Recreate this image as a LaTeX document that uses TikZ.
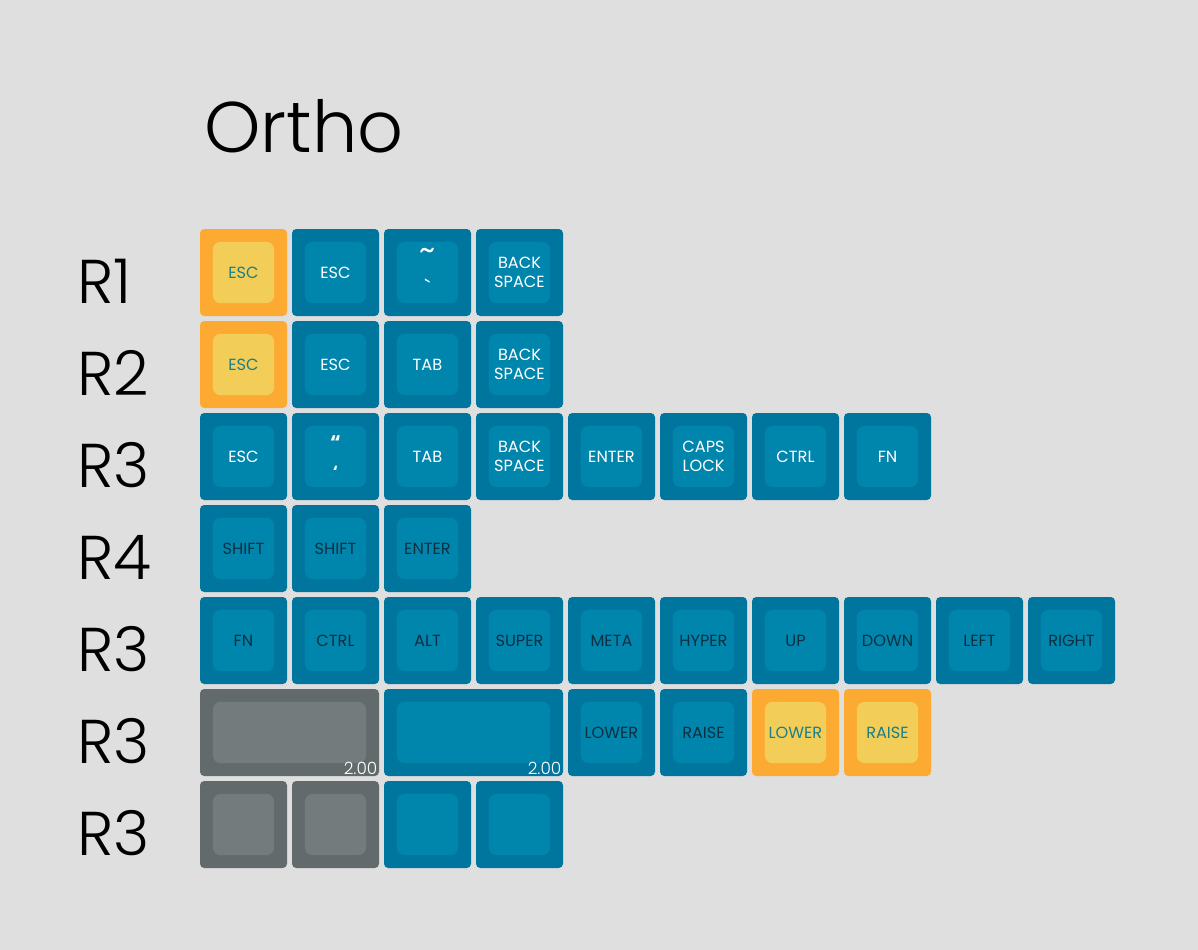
\documentclass[tikz,border=0pt]{standalone}
\usepackage{fontspec}
\setmainfont{Poppins}
\IfFontExistsTF{Poppins-Light}
  {\newfontfamily\lightfont{Poppins-Light}}
  {\IfFontExistsTF{Poppins Light}
    {\newfontfamily\lightfont{Poppins Light}}
    {\IfFontExistsTF{Poppins-ExtraLight}
      {\newfontfamily\lightfont{Poppins-ExtraLight}}
      {\newfontfamily\lightfont{Poppins}}}}
\usepackage{tikz}
\usetikzlibrary{positioning}
\definecolor{bgGrey}{HTML}{DFDFDF}
\definecolor{blueOut}{HTML}{00769F}
\definecolor{blueIn}{HTML}{0086AD}
\definecolor{orgOut}{HTML}{FCAA32}
\definecolor{orgIn}{HTML}{F2CE58}
\definecolor{greyOut}{HTML}{636A6C}
\definecolor{greyIn}{HTML}{737B7C}
\definecolor{txtDark}{HTML}{0C2F42}
\definecolor{txtTeal}{HTML}{1B7F88}

\begin{document}
\begin{tikzpicture}[
  node distance=0.125cm,
  keycap/.style 2 args={fill=#1, rounded corners=3pt, inner sep=0pt, outer sep=0pt,
              minimum width=2.175cm, minimum height=2.175cm, align=center,
              font=\fontsize{11.5}{13.5}\selectfont,
              path picture={\fill[#2, rounded corners=0.2cm]
                ([shift={(0.32cm,0.32cm)}]path picture bounding box.south west) rectangle
                ([shift={(-0.32cm,-0.32cm)}]path picture bounding box.north east);}},
  bluekey/.style={keycap={blueOut}{blueIn}, text=white},
  darkkey/.style={keycap={blueOut}{blueIn}, text=txtDark},
  orgkey/.style={keycap={orgOut}{orgIn}, text=txtTeal},
  greykey/.style={keycap={greyOut}{greyIn}},
  widekey/.style={minimum width=4.475cm},
  rowlbl/.style={anchor=base west, inner sep=0pt, font=\lightfont\fontsize{44}{44}\selectfont},
  sizelbl/.style={anchor=south east, inner sep=1pt, text=white,
              font=\lightfont\fontsize{12}{12}\selectfont}
]
  \fill[bgGrey] (0,0) rectangle (29.95,-23.75);

  \node[anchor=base west, inner sep=0pt, font=\lightfont\fontsize{51}{51}\selectfont]
    (title) at (5.1,-3.8) {Ortho};

  % row labels
  \node[rowlbl] (l1) at (1.925,-7.575) {R1};
  \node[rowlbl] (l2) at (1.925,-9.875) {R2};
  \node[rowlbl] (l3) at (1.925,-12.175) {R3};
  \node[rowlbl] (l4) at (1.925,-14.475) {R4};
  \node[rowlbl] (l5) at (1.925,-16.775) {R3};
  \node[rowlbl] (l6) at (1.925,-19.075) {R3};
  \node[rowlbl] (l7) at (1.925,-21.375) {R3};

  % row 1
  \node[orgkey] (a1) at (6.0875,-6.8125) {ESC};
  \node[bluekey, right=of a1] (a2) {ESC};
  \node[bluekey, right=of a2, font=\fontsize{16}{26}\selectfont] (a3)
    {{\fontsize{22}{26}\selectfont\textasciitilde}\\\textasciigrave};
  \node[bluekey, right=of a3] (a4) {BACK\\SPACE};

  % row 2
  \node[orgkey, below=of a1] (b1) {ESC};
  \node[bluekey, right=of b1] (b2) {ESC};
  \node[bluekey, right=of b2] (b3) {TAB};
  \node[bluekey, right=of b3] (b4) {BACK\\SPACE};

  % row 3
  \node[bluekey, below=of b1] (c1) {ESC};
  \node[bluekey, right=of c1] (c2) {\fontsize{14}{14}\selectfont\bfseries“\\[7pt]\bfseries‘};
  \node[bluekey, right=of c2] (c3) {TAB};
  \node[bluekey, right=of c3] (c4) {BACK\\SPACE};
  \node[bluekey, right=of c4] (c5) {ENTER};
  \node[bluekey, right=of c5] (c6) {CAPS\\LOCK};
  \node[bluekey, right=of c6] (c7) {CTRL};
  \node[bluekey, right=of c7] (c8) {FN};

  % row 4
  \node[darkkey, below=of c1] (d1) {SHIFT};
  \node[darkkey, right=of d1] (d2) {SHIFT};
  \node[darkkey, right=of d2] (d3) {ENTER};

  % row 5
  \node[darkkey, below=of d1] (e1) {FN};
  \node[darkkey, right=of e1] (e2) {CTRL};
  \node[darkkey, right=of e2] (e3) {ALT};
  \node[darkkey, right=of e3] (e4) {SUPER};
  \node[darkkey, right=of e4] (e5) {META};
  \node[darkkey, right=of e5] (e6) {HYPER};
  \node[darkkey, right=of e6] (e7) {UP};
  \node[darkkey, right=of e7] (e8) {DOWN};
  \node[darkkey, right=of e8] (e9) {LEFT};
  \node[darkkey, right=of e9] (e10) {RIGHT};

  % row 6
  \node[greykey, widekey, below=of e1.south west, anchor=north west] (f1) {};
  \node[darkkey, widekey, right=of f1] (f2) {};
  \node[darkkey, right=of f2] (f3) {LOWER};
  \node[darkkey, right=of f3] (f4) {RAISE};
  \node[orgkey, right=of f4] (f5) {LOWER};
  \node[orgkey, right=of f5] (f6) {RAISE};
  \node[sizelbl] (s1) at (f1.south east) {2.00};
  \node[sizelbl] (s2) at (f2.south east) {2.00};

  % row 7
  \node[greykey, below=of f1.south west, anchor=north west] (g1) {};
  \node[greykey, right=of g1] (g2) {};
  \node[darkkey, right=of g2] (g3) {};
  \node[darkkey, right=of g3] (g4) {};
\end{tikzpicture}
\end{document}
